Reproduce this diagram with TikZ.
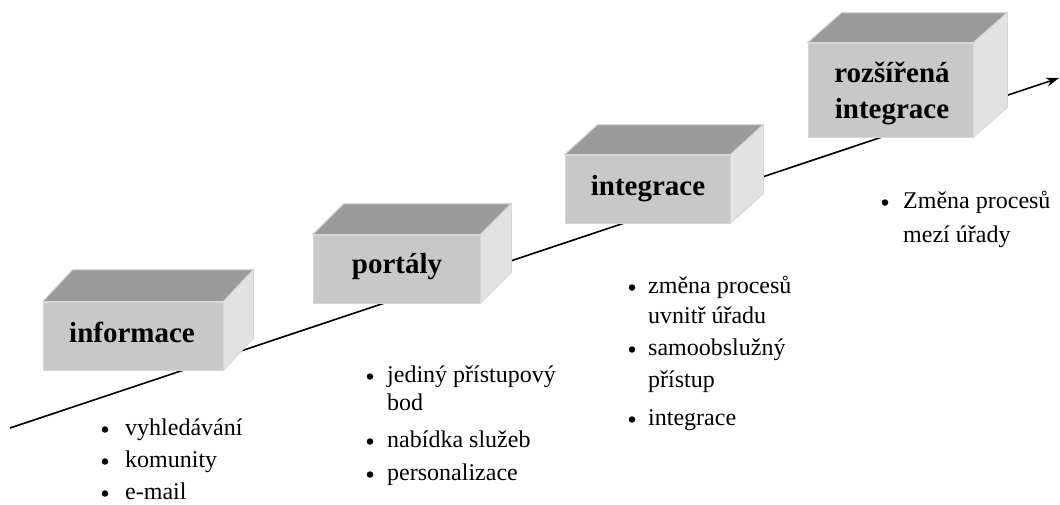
\documentclass[tikz,border=0pt]{standalone}
\usepackage{fontspec}
\setmainfont{LiberationSerif}[Extension=.ttf, UprightFont=*-Regular, BoldFont=*-Bold, ItalicFont=*-Italic, BoldItalicFont=*-BoldItalic]
\usetikzlibrary{arrows.meta}
\definecolor{topface}{HTML}{9B9B9B}
\definecolor{frontface}{HTML}{C8C8C8}
\definecolor{sideface}{HTML}{E2E2E2}
\definecolor{edgec}{HTML}{D6D6D6}
\tikzset{
  front/.style={rectangle, fill=frontface, draw=edgec, line width=0.8pt, inner sep=0pt},
  topf/.style={fill=topface, draw=edgec, line width=0.8pt},
  sidef/.style={fill=sideface, draw=edgec, line width=0.8pt},
  lbl/.style={font=\fontsize{29}{34}\selectfont\bfseries, inner sep=0pt, anchor=base, align=center},
  bul/.style={circle, fill=black, inner sep=0pt, minimum size=6.5pt},
  itm/.style={font=\fontsize{24}{30}\selectfont, inner sep=0pt, anchor=base west},
  axis/.style={line width=1.6pt, -{Stealth[length=13pt,width=9pt]}}
}
\newcommand\threedbox[3]{% name, dx, dy
  \fill[topf] (#1.north west) -- ++(#2,-#3) -- ([shift={(#2,-#3)}]#1.north east) -- (#1.north east) -- cycle;
  \fill[sidef] (#1.north east) -- ++(#2,-#3) -- ([shift={(#2,-#3)}]#1.south east) -- (#1.south east) -- cycle;
  \draw[topf,fill=none] (#1.north west) -- ++(#2,-#3) -- ([shift={(#2,-#3)}]#1.north east) -- (#1.north east);
}
\begin{document}
\begin{tikzpicture}[x=1pt,y=-1pt]
\useasboundingbox (0,0) rectangle (1060,504);
\coordinate (s) at (10,428);
\coordinate (e) at (1059,78);
\draw[axis] (s) -- (e);

% box 1
\node[front, minimum width=180pt, minimum height=68pt] (b1) at (133,336) {};
\threedbox{b1}{30}{32}
\node[lbl] (l1) at (132,342) {informace};
% box 2
\node[front, minimum width=167pt, minimum height=68pt] (b2) at (396.5,269) {};
\threedbox{b2}{31}{31}
\node[lbl] (l2) at (397,273) {portály};
% box 3
\node[front, minimum width=165pt, minimum height=68pt] (b3) at (647.5,189) {};
\threedbox{b3}{33}{30}
\node[lbl] (l3) at (648,195) {integrace};
% box 4
\node[front, minimum width=165pt, minimum height=94pt] (b4) at (890.5,90) {};
\threedbox{b4}{34}{30}
\node[lbl] (l4a) at (892,82) {rozšířená};
\node[lbl] (l4b) at (892,118) {integrace};

% list 1
\node[bul] (p1a) at (105,429.5) {};
\node[itm] (t1a) at (125,435) {vyhledávání};
\node[bul] (p1b) at (105,461.5) {};
\node[itm] (t1b) at (125,467) {komunity};
\node[bul] (p1c) at (105,493.5) {};
\node[itm] (t1c) at (125,499) {e-mail};

% list 2
\node[bul] (p2a) at (370,376.5) {};
\node[itm] (t2a) at (387,382) {jediný přístupový};
\node[itm] (t2b) at (387,410) {bod};
\node[bul] (p2c) at (370,441.5) {};
\node[itm] (t2c) at (387,447) {nabídka služeb};
\node[bul] (p2d) at (370,474.5) {};
\node[itm] (t2d) at (387,480) {personalizace};

% list 3
\node[bul] (p3a) at (632,287.5) {};
\node[itm] (t3a) at (648,293) {změna procesů};
\node[itm] (t3b) at (648,323) {uvnitř úřadu};
\node[bul] (p3c) at (632,349.5) {};
\node[itm] (t3c) at (648,355) {samoobslužný};
\node[itm] (t3d) at (648,387) {přístup};
\node[bul] (p3e) at (632,419.5) {};
\node[itm] (t3e) at (648,425) {integrace};

% list 4
\node[bul] (p4a) at (885,202.5) {};
\node[itm] (t4a) at (903,208) {Změna procesů};
\node[itm] (t4b) at (903,242) {mezí úřady};
\end{tikzpicture}
\end{document}
